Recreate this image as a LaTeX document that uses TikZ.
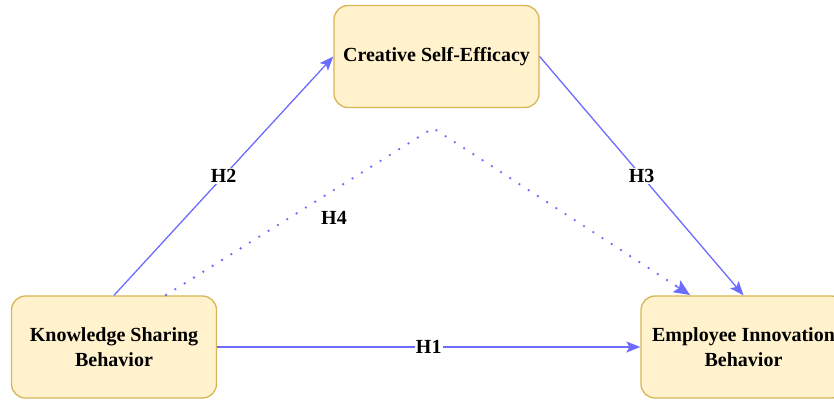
\documentclass[tikz,border=0pt]{standalone}
\usepackage{fontspec}
\setmainfont{Liberation Serif}
\usetikzlibrary{arrows.meta,calc}
\definecolor{boxfill}{HTML}{FFF2CC}
\definecolor{boxline}{HTML}{D6B656}
\definecolor{arrowc}{HTML}{6C6CFF}
\tikzset{
  conceptbox/.style={draw=boxline, fill=boxfill, line width=1.3pt, rounded corners=14pt,
    minimum width=205pt, minimum height=102pt, inner sep=0pt, align=center,
    font=\fontsize{20}{25.5}\selectfont\bfseries},
  link/.style={draw=arrowc, line width=1.3pt, -{Stealth[length=14pt,width=11pt,inset=3pt]}},
  dotlink/.style={draw=arrowc, line width=2.6pt, line cap=round, dash pattern=on 0pt off 11pt},
  dottip/.style={draw=arrowc, line width=1.3pt, -{Stealth[length=16pt,width=14pt,inset=3pt]}},
  hlabel/.style={fill=white, inner sep=1pt, font=\fontsize{20}{25}\selectfont\bfseries}
}
\begin{document}
\begin{tikzpicture}[x=1pt,y=-1pt]
\useasboundingbox (0,0) rectangle (834,400);
\begin{scope}
\clip (0,0) rectangle (834,400);
\node[conceptbox] (cse) at (436.5,56.5) {Creative Self-Efficacy};
\node[conceptbox] (ksb) at (114,347) {Knowledge Sharing\\Behavior};
\node[conceptbox] (eib) at (743.5,347) {Employee Innovation\\Behavior};
\end{scope}
\coordinate (peak) at (433,128);
\draw[link] (ksb.north) -- node[hlabel, pos=0.5] {H2} (cse.west);
\draw[link] (cse.east) -- node[hlabel, pos=0.5] {H3} (eib.north);
\draw[link] (ksb.east) -- node[hlabel, pos=0.5] {H1} (eib.west);
\coordinate (dstart) at (166,295);
\coordinate (dend) at (690,295);
\draw[dotlink, shorten >=12pt] (dstart) -- (peak) -- (dend);
\draw[dottip] ($(dend)!18pt!(peak)$) -- (dend);
\node[font=\fontsize{20}{25}\selectfont\bfseries] (h4) at (334,218) {H4};
\end{tikzpicture}
\end{document}
